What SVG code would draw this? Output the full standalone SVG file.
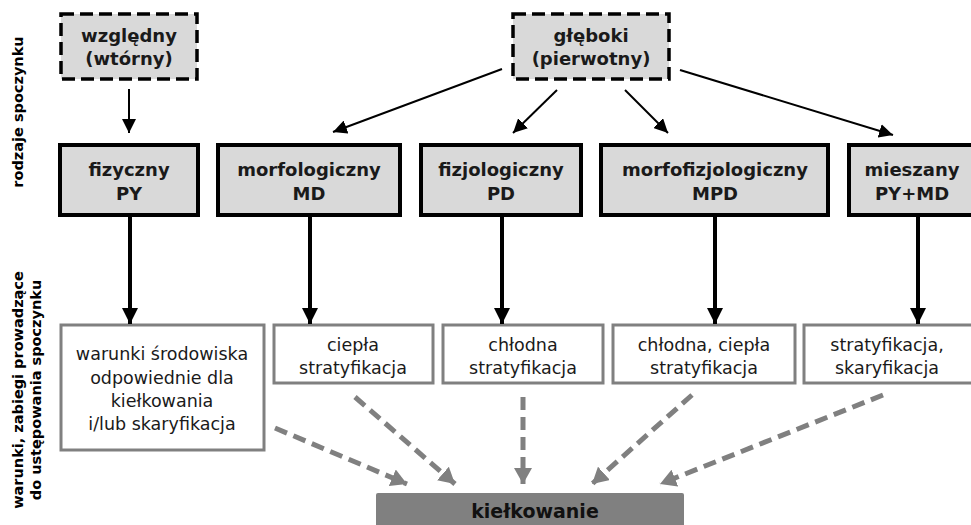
<svg xmlns="http://www.w3.org/2000/svg" width="971" height="525" viewBox="0 0 971 525">
<defs>
<marker id="thin" markerUnits="userSpaceOnUse" markerWidth="16" markerHeight="14" refX="14" refY="7" orient="auto"><path d="M0,0 L14,7 L0,14 Z" fill="#000"/></marker>
<marker id="thick" markerUnits="userSpaceOnUse" markerWidth="18" markerHeight="16" refX="16" refY="8" orient="auto"><path d="M0,0 L16,8 L0,16 Z" fill="#000"/></marker>
<marker id="gray" markerUnits="userSpaceOnUse" markerWidth="20" markerHeight="18" refX="16" refY="9" orient="auto"><path d="M0,0 L16,9 L0,18 Z" fill="#808080"/></marker>
</defs>
<style>
.top{fill:#d9d9d9;stroke:#000;stroke-width:3.5;stroke-dasharray:13 6}
.mid{fill:#d9d9d9;stroke:#000;stroke-width:4}
.low{fill:#fff;stroke:#808080;stroke-width:3}
.b{font-family:"DejaVu Sans",Verdana,sans-serif;font-weight:bold;font-size:18px;fill:#1a1a1a;text-anchor:middle}
.r{font-family:"DejaVu Sans",Verdana,sans-serif;font-size:17.5px;fill:#1a1a1a;text-anchor:middle}
.side{font-family:"DejaVu Sans",Verdana,sans-serif;font-weight:bold;font-size:14.5px;fill:#000;text-anchor:middle}
.a1{stroke:#000;stroke-width:2;fill:none;marker-end:url(#thin)}
.a2{stroke:#000;stroke-width:4;fill:none;marker-end:url(#thick)}
.a3{stroke:#808080;stroke-width:5;fill:none;stroke-dasharray:13 7;marker-end:url(#gray)}
</style>

<g id="label-rodzaje">
<text class="side" transform="translate(23,112) rotate(-90)">rodzaje spoczynku</text>
</g>
<g id="label-warunki">
<text class="side" transform="translate(23,390) rotate(-90)">warunki, zabiegi prowadzące</text>
<text class="side" transform="translate(41,390) rotate(-90)">do ustępowania spoczynku</text>
</g>

<g id="wzgledny">
<rect class="top" x="61" y="14" width="136" height="65"/>
<text class="b" x="129" y="42">względny</text>
<text class="b" x="129" y="65">(wtórny)</text>
</g>
<g id="gleboki">
<rect class="top" x="513" y="14" width="156" height="65"/>
<text class="b" x="591" y="42">głęboki</text>
<text class="b" x="591" y="65">(pierwotny)</text>
</g>

<g id="fizyczny">
<rect class="mid" x="60" y="145" width="138" height="70"/>
<text class="b" x="129" y="176">fizyczny</text>
<text class="b" x="129" y="200">PY</text>
</g>
<g id="morfologiczny">
<rect class="mid" x="218" y="145" width="182" height="70"/>
<text class="b" x="309" y="176">morfologiczny</text>
<text class="b" x="309" y="200">MD</text>
</g>
<g id="fizjologiczny">
<rect class="mid" x="421" y="145" width="160" height="70"/>
<text class="b" x="501" y="176">fizjologiczny</text>
<text class="b" x="501" y="200">PD</text>
</g>
<g id="morfofizjologiczny">
<rect class="mid" x="601" y="145" width="227" height="70"/>
<text class="b" x="715" y="176">morfofizjologiczny</text>
<text class="b" x="715" y="200">MPD</text>
</g>
<g id="mieszany">
<rect class="mid" x="849" y="145" width="126" height="70"/>
<text class="b" x="912" y="176">mieszany</text>
<text class="b" x="912" y="200">PY+MD</text>
</g>

<g id="w1">
<rect class="low" x="61" y="325" width="203" height="125"/>
<text class="r" x="162" y="360">warunki środowiska</text>
<text class="r" x="162" y="384">odpowiednie dla</text>
<text class="r" x="162" y="407">kiełkowania</text>
<text class="r" x="162" y="430">i/lub skaryfikacja</text>
</g>
<g id="w2">
<rect class="low" x="274" y="325" width="159" height="58"/>
<text class="r" x="353" y="351">ciepła</text>
<text class="r" x="353" y="374">stratyfikacja</text>
</g>
<g id="w3">
<rect class="low" x="443" y="325" width="160" height="58"/>
<text class="r" x="523" y="351">chłodna</text>
<text class="r" x="523" y="374">stratyfikacja</text>
</g>
<g id="w4">
<rect class="low" x="613" y="325" width="182" height="58"/>
<text class="r" x="704" y="351">chłodna, ciepła</text>
<text class="r" x="704" y="374">stratyfikacja</text>
</g>
<g id="w5">
<rect class="low" x="804" y="325" width="172" height="58"/>
<text class="r" x="887" y="351">stratyfikacja,</text>
<text class="r" x="887" y="374">skaryfikacja</text>
</g>

<g id="kielkowanie">
<rect x="376" y="493" width="308" height="40" rx="2" fill="#808080"/>
<text class="b" x="535" y="518" style="fill:#111;font-size:19px">kiełkowanie</text>
</g>

<g id="connectors">
<line class="a1" x1="129" y1="89" x2="129" y2="133"/>
<line class="a1" x1="502" y1="69" x2="333" y2="132"/>
<line class="a1" x1="557" y1="90" x2="513" y2="133"/>
<line class="a1" x1="625" y1="90" x2="668" y2="133"/>
<line class="a1" x1="680" y1="70" x2="893" y2="135"/>
<line class="a2" x1="130" y1="215" x2="130" y2="324"/>
<line class="a2" x1="310" y1="215" x2="310" y2="324"/>
<line class="a2" x1="502" y1="215" x2="502" y2="324"/>
<line class="a2" x1="715" y1="215" x2="715" y2="324"/>
<line class="a2" x1="918" y1="215" x2="918" y2="324"/>
<line class="a3" x1="275" y1="428" x2="407" y2="484"/>
<line class="a3" x1="355" y1="397" x2="455" y2="484"/>
<line class="a3" x1="523" y1="397" x2="523" y2="484"/>
<line class="a3" x1="692" y1="395" x2="592" y2="484"/>
<line class="a3" x1="883" y1="395" x2="660" y2="484"/>
</g>
</svg>
